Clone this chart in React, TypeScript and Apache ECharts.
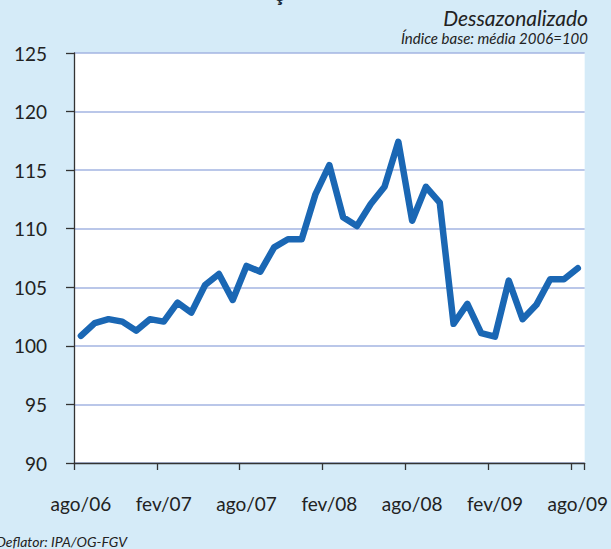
import React, { useEffect, useRef } from "react";
import * as echarts from "echarts";

const categories = [
  "ago/06", "set/06", "out/06", "nov/06", "dez/06",
  "jan/07", "fev/07", "mar/07", "abr/07", "mai/07", "jun/07", "jul/07", "ago/07", "set/07", "out/07", "nov/07", "dez/07",
  "jan/08", "fev/08", "mar/08", "abr/08", "mai/08", "jun/08", "jul/08", "ago/08", "set/08", "out/08", "nov/08", "dez/08",
  "jan/09", "fev/09", "mar/09", "abr/09", "mai/09", "jun/09", "jul/09", "ago/09",
];

const indexValues = [
  100.85, 101.94, 102.28, 102.07, 101.3,
  102.28, 102.07, 103.69, 102.84, 105.2, 106.14, 103.92, 106.82, 106.33, 108.41, 109.1, 109.1,
  112.96, 115.43, 110.97, 110.23, 112.11, 113.58, 117.42, 110.68, 113.58, 112.22, 101.88, 103.58,
  101.08, 100.79, 105.57, 102.28, 103.5, 105.69, 105.69, 106.62,
];

const yTicks = { min: 90, max: 125, interval: 5 };

const subtitle = "Dessazonalizado";
const baseNote = "Índice base: média 2006=100";
const sourceNote = "Deflator: IPA/OG-FGV";

export default function App() {
  const ref = useRef<HTMLDivElement>(null);

  useEffect(() => {
    if (!ref.current) return;
    const chart = echarts.init(ref.current, undefined, { renderer: "svg" });
    const fontFamily = "Lato, 'Open Sans', sans-serif";
    chart.setOption({
      animation: false,
      backgroundColor: "#d5ebf8",
      grid: {
        left: 74,
        right: 22,
        top: 53,
        bottom: 86,
        show: true,
        backgroundColor: "#ffffff",
        borderWidth: 0,
      },
      xAxis: {
        type: "category",
        data: categories,
        boundaryGap: true,
        axisLine: { show: true, lineStyle: { color: "#333333", width: 1.3 } },
        axisTick: { show: true, interval: 5, length: 7, lineStyle: { color: "#333333", width: 1.3 } },
        axisLabel: {
          interval: 5,
          margin: 31,
          color: "#222222",
          fontSize: 19,
          fontFamily,
        },
        splitLine: { show: false },
      },
      yAxis: {
        type: "value",
        min: yTicks.min,
        max: yTicks.max,
        interval: yTicks.interval,
        axisLine: { show: true, lineStyle: { color: "#333333", width: 1.3 } },
        axisTick: { show: true, length: 8, lineStyle: { color: "#333333", width: 1.3 } },
        axisLabel: {
          margin: 27,
          color: "#222222",
          fontSize: 19,
          fontFamily,
        },
        splitLine: { show: true, lineStyle: { color: "#a3b5e2", width: 1.5 } },
      },
      series: [
        {
          type: "line",
          data: indexValues,
          symbol: "none",
          lineStyle: { color: "#1a67b4", width: 6.5, cap: "round", join: "round" },
        },
      ],
      graphic: [
        {
          type: "text",
          x: 279,
          y: -8,
          style: {
            text: "ç",
            font: "bold 22px Lato, sans-serif",
            fill: "#1c2a3a",
            align: "center",
            verticalAlign: "middle",
          },
        },
        {
          type: "text",
          x: 588,
          y: 17,
          style: {
            text: subtitle,
            font: "italic 21px Lato, sans-serif",
            fill: "#222222",
            align: "right",
            verticalAlign: "middle",
          },
        },
        {
          type: "text",
          x: 588,
          y: 38,
          style: {
            text: baseNote,
            font: "italic 15px Lato, sans-serif",
            fill: "#222222",
            align: "right",
            verticalAlign: "middle",
          },
        },
        {
          type: "text",
          x: -4,
          y: 541,
          style: {
            text: sourceNote,
            font: "italic 14px Lato, sans-serif",
            fill: "#222222",
            align: "left",
            verticalAlign: "middle",
          },
        },
      ],
    });
    return () => chart.dispose();
  }, []);

  return (
    <div
      ref={ref}
      style={{ position: "fixed", left: 0, top: 0, width: 611, height: 549 }}
    />
  );
}
